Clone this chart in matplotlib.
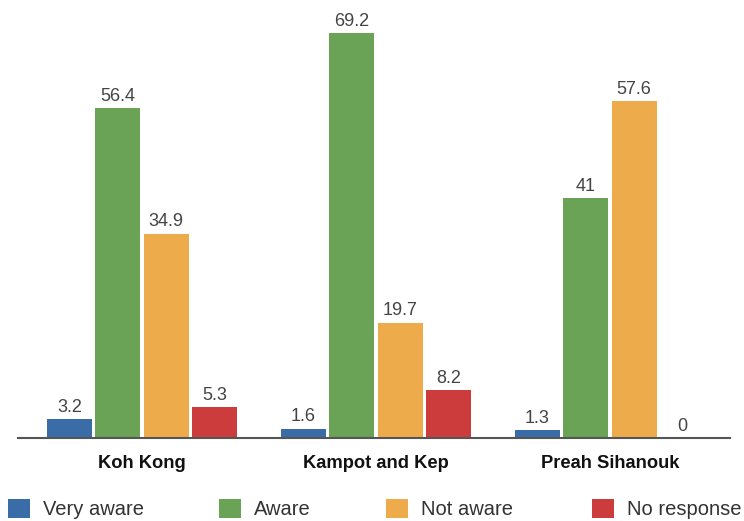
import matplotlib
matplotlib.use("Agg")
import matplotlib.pyplot as plt
import numpy as np
from matplotlib.patches import Patch

categories = ["Koh Kong", "Kampot and Kep", "Preah Sihanouk"]
series_names = ["Very aware", "Aware", "Not aware", "No response"]
very_aware = [3.2, 1.6, 1.3]
aware = [56.4, 69.2, 41]
not_aware = [34.9, 19.7, 57.6]
no_response = [5.3, 8.2, 0]
colors = ["#3a6ca8", "#6aa356", "#eeab4b", "#cc3c3c"]

plt.rcParams['font.family'] = ['Liberation Sans', 'DejaVu Sans']

fig = plt.figure(figsize=(7.44, 5.21), dpi=100)
ax = fig.add_axes([18/744, (521-438)/521, (730-18)/744, (438-10)/521])

x = np.arange(len(categories))
step = 0.207
width = 0.192
all_series = [very_aware, aware, not_aware, no_response]
for i, (vals, c) in enumerate(zip(all_series, colors)):
    pos = x + (i - 1.5) * step
    bars = ax.bar(pos, vals, width=width, color=c, edgecolor='none', zorder=2)
    for b, v in zip(bars, vals):
        lab = ("%g" % v)
        ax.annotate(lab, (b.get_x() + b.get_width()/2, b.get_height()),
                    xytext=(0, 2.5), textcoords='offset points',
                    ha='center', va='bottom', fontsize=13, color='#444444')

ax.set_xlim(-0.53, 2.513)
ax.set_ylim(0, 73.2)
for s in ['top', 'right', 'left']:
    ax.spines[s].set_visible(False)
ax.spines['bottom'].set_color('#555555')
ax.spines['bottom'].set_linewidth(1.5)
ax.set_yticks([])
ax.set_xticks(x)
ax.set_xticklabels(categories, fontsize=13.2, fontweight='bold', color='#111111')
ax.tick_params(axis='x', length=0, pad=12)

leg_x = [8, 219, 386, 592]
for name, c, lx in zip(series_names, colors, leg_x):
    fig.legend(handles=[Patch(facecolor=c, edgecolor='none')], labels=[name],
               loc='center left', bbox_to_anchor=(lx/744, (521-509)/521),
               frameon=False, fontsize=14.5,
               handlelength=1.09, handleheight=1.09,
               handletextpad=0.65, borderaxespad=0, borderpad=0,
               labelcolor='#333333')

fig.savefig("out.png", dpi=100)
